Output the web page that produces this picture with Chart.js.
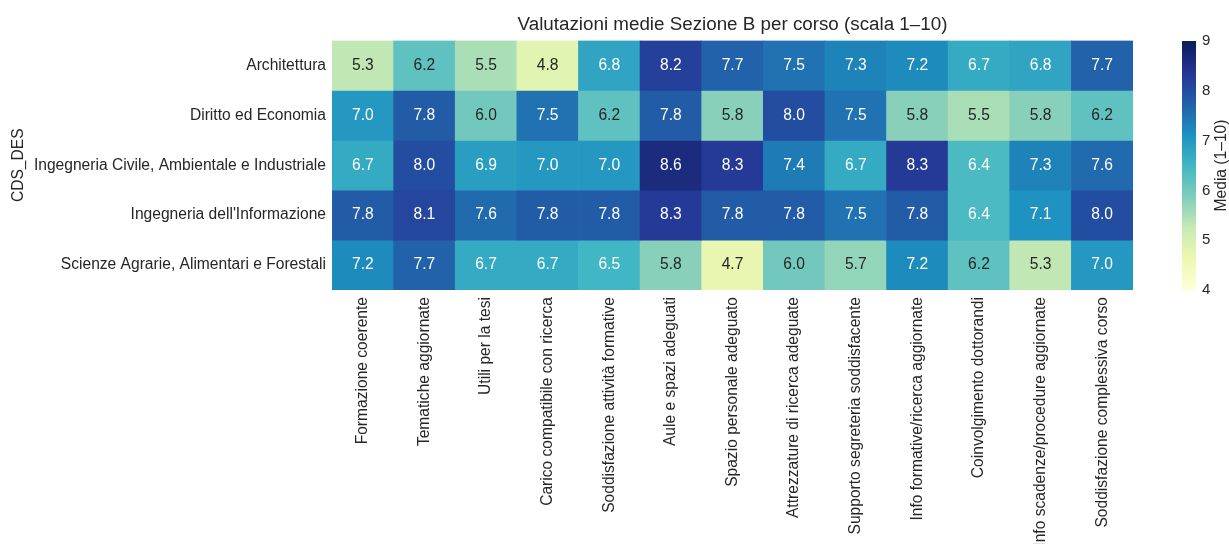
<!DOCTYPE html>
<html>
<head>
<meta charset="utf-8">
<script src="https://cdn.jsdelivr.net/npm/chart.js@4.4.0/dist/chart.umd.min.js"></script>
<style>
    body { margin: 0; background: #fff; }
    #wrap { position: relative; width: 1229px; height: 544px; }
    #grafico { position: absolute; left: 0; top: 0; }
    #barra { position: absolute; left: 1182px; top: 0; }
</style>
</head>
<body>
<div id="wrap">
    <canvas id="grafico" width="1229" height="544"></canvas>
    <canvas id="barra" width="47" height="310"></canvas>
</div>
<script>
// Corsi (righe) e domande (colonne)
const corsi = [
    'Architettura',
    'Diritto ed Economia',
    'Ingegneria Civile, Ambientale e Industriale',
    "Ingegneria dell'Informazione",
    'Scienze Agrarie, Alimentari e Forestali'
];
const domande = [
    'Formazione coerente',
    'Tematiche aggiornate',
    'Utili per la tesi',
    'Carico compatibile con ricerca',
    'Soddisfazione attività formative',
    'Aule e spazi adeguati',
    'Spazio personale adeguato',
    'Attrezzature di ricerca adeguate',
    'Supporto segreteria soddisfacente',
    'Info formative/ricerca aggiornate',
    'Coinvolgimento dottorandi',
    'Info scadenze/procedure aggiornate',
    'Soddisfazione complessiva corso'
];

// Medie per corso
const architettura = [5.3, 6.2, 5.5, 4.8, 6.8, 8.2, 7.7, 7.5, 7.3, 7.2, 6.7, 6.8, 7.7];
const diritto = [7.0, 7.8, 6.0, 7.5, 6.2, 7.8, 5.8, 8.0, 7.5, 5.8, 5.5, 5.8, 6.2];
const ingCivile = [6.7, 8.0, 6.9, 7.0, 7.0, 8.6, 8.3, 7.4, 6.7, 8.3, 6.4, 7.3, 7.6];
const ingInfo = [7.8, 8.1, 7.6, 7.8, 7.8, 8.3, 7.8, 7.8, 7.5, 7.8, 6.4, 7.1, 8.0];
const scienzeAgrarie = [7.2, 7.7, 6.7, 6.7, 6.5, 5.8, 4.7, 6.0, 5.7, 7.2, 6.2, 5.3, 7.0];
const valori = [architettura, diritto, ingCivile, ingInfo, scienzeAgrarie];

// Scala colori
const scalaMin = 4;
const scalaMax = 9;
const ticksBarra = [4, 5, 6, 7, 8, 9];

const YlGnBu = ['#ffffd9', '#edf8b1', '#c7e9b4', '#7fcdbb', '#41b6c4', '#1d91c0', '#225ea8', '#253494', '#081d58'];
const fonte = '"Liberation Sans", Arial, sans-serif';
const grigio = '#262626';
const dim = 15.6;

function hexRgb(h) {
    return [parseInt(h.slice(1, 3), 16), parseInt(h.slice(3, 5), 16), parseInt(h.slice(5, 7), 16)];
}

function coloreRgb(v) {
    let t = (v - scalaMin) / (scalaMax - scalaMin);
    t = Math.max(0, Math.min(1, t));
    const pos = t * (YlGnBu.length - 1);
    const i = Math.min(Math.floor(pos), YlGnBu.length - 2);
    const f = pos - i;
    const a = hexRgb(YlGnBu[i]);
    const b = hexRgb(YlGnBu[i + 1]);
    return a.map((c, k) => Math.round(c + (b[k] - c) * f));
}

function colore(v) {
    const c = coloreRgb(v);
    return `rgb(${c[0]},${c[1]},${c[2]})`;
}

// come seaborn: testo scuro sulle celle chiare
function coloreTesto(v) {
    const lin = coloreRgb(v).map(c => {
        c = c / 255;
        return c <= 0.03928 ? c / 12.92 : Math.pow((c + 0.055) / 1.055, 2.4);
    });
    const lum = 0.2126 * lin[0] + 0.7152 * lin[1] + 0.0722 * lin[2];
    return lum > 0.408 ? grigio : '#ffffff';
}

// Scrive il valore al centro di ogni cella
const etichetteCelle = {
    id: 'etichetteCelle',
    afterDatasetsDraw(chart) {
        const ctx = chart.ctx;
        ctx.save();
        ctx.font = dim + 'px ' + fonte;
        ctx.textAlign = 'center';
        ctx.textBaseline = 'middle';
        chart.data.datasets.forEach((ds, i) => {
            const meta = chart.getDatasetMeta(i);
            meta.data.forEach((el, j) => {
                const v = valori[i][j];
                ctx.fillStyle = coloreTesto(v);
                ctx.fillText(v.toFixed(1), el.x, (el.y + el.base) / 2);
            });
        });
        ctx.restore();
    }
};

const datasets = corsi.map((corso, i) => ({
    label: corso,
    data: valori[i].map(() => 1),
    backgroundColor: valori[i].map(colore),
    borderWidth: 0,
    barPercentage: 1,
    categoryPercentage: 1
}));

new Chart(document.getElementById('grafico'), {
    type: 'bar',
    data: { labels: domande, datasets },
    options: {
        responsive: false,
        animation: false,
        devicePixelRatio: 1,
        layout: { padding: { left: 0, right: 96, top: 0, bottom: 0 } },
        plugins: {
            legend: { display: false },
            tooltip: { enabled: false },
            title: {
                display: true,
                fullSize: false,
                text: 'Valutazioni medie Sezione B per corso (scala 1–10)',
                color: grigio,
                font: { family: fonte, size: 18.8, weight: 'normal' },
                padding: { top: 14, bottom: 4 }
            }
        },
        scales: {
            x: {
                stacked: true,
                grid: { display: false, drawTicks: false },
                border: { display: false },
                ticks: {
                    autoSkip: false,
                    maxRotation: 90,
                    minRotation: 90,
                    padding: 7,
                    color: grigio,
                    font: { family: fonte, size: dim }
                },
                afterFit(s) { s.height = 254; }
            },
            y: {
                stacked: true,
                min: 0,
                max: 5,
                reverse: true,
                display: false
            },
            yl: {
                type: 'category',
                labels: corsi,
                offset: true,
                position: 'left',
                grid: { display: false, drawTicks: false },
                border: { display: false },
                ticks: {
                    padding: 6,
                    color: grigio,
                    font: { family: fonte, size: dim }
                },
                title: {
                    display: true,
                    text: 'CDS_DES',
                    color: grigio,
                    font: { family: fonte, size: dim },
                    padding: { top: 9, bottom: 0 }
                },
                afterFit(s) { s.width = 332; }
            }
        }
    },
    plugins: [etichetteCelle]
});

// Barra dei colori
const titoloBarra = {
    id: 'titoloBarra',
    afterDraw(chart) {
        const ctx = chart.ctx;
        const ca = chart.chartArea;
        ctx.save();
        ctx.translate(40, (ca.top + ca.bottom) / 2);
        ctx.rotate(-Math.PI / 2);
        ctx.font = dim + 'px ' + fonte;
        ctx.fillStyle = grigio;
        ctx.textAlign = 'center';
        ctx.textBaseline = 'middle';
        ctx.fillText('Media (1–10)', 0, 0);
        ctx.restore();
    }
};

new Chart(document.getElementById('barra'), {
    type: 'bar',
    data: {
        labels: ['Media'],
        datasets: [{
            data: [[scalaMin, scalaMax]],
            backgroundColor(c) {
                const ca = c.chart.chartArea;
                if (!ca) return YlGnBu[4];
                const g = c.chart.ctx.createLinearGradient(0, ca.bottom, 0, ca.top);
                YlGnBu.forEach((col, i) => g.addColorStop(i / (YlGnBu.length - 1), col));
                return g;
            },
            borderWidth: 0,
            barPercentage: 1,
            categoryPercentage: 1
        }]
    },
    options: {
        responsive: false,
        animation: false,
        devicePixelRatio: 1,
        layout: { padding: { left: 0, right: 0, top: 41, bottom: 20 } },
        plugins: { legend: { display: false }, tooltip: { enabled: false } },
        scales: {
            x: { display: false },
            y: {
                position: 'right',
                min: scalaMin,
                max: scalaMax,
                afterBuildTicks(s) { s.ticks = ticksBarra.map(v => ({ value: v })); },
                grid: { drawOnChartArea: false, drawTicks: false },
                border: { display: false },
                ticks: {
                    padding: 6,
                    color: grigio,
                    font: { family: fonte, size: 15 }
                },
                afterFit(s) { s.width = 33; }
            }
        }
    },
    plugins: [titoloBarra]
});
</script>
</body>
</html>
